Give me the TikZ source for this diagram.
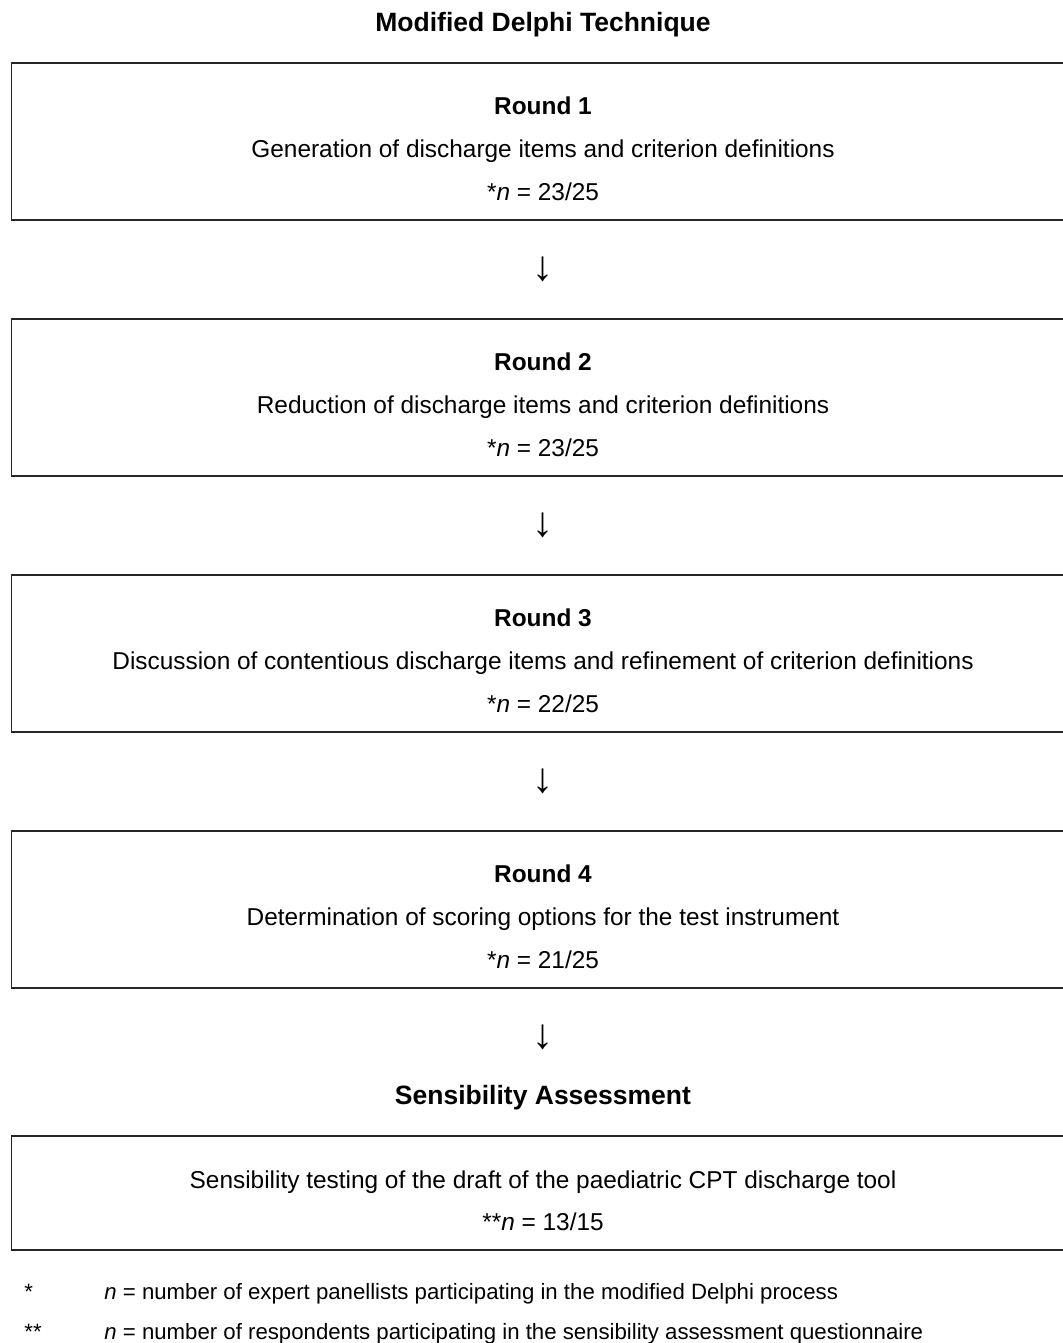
\documentclass[tikz,border=0pt]{standalone}
\usepackage{fontspec}
\setmainfont{Liberation Sans}
\begin{document}
\begin{tikzpicture}[x=0.5pt,y=-0.5pt,
  box/.style={draw=black!85,line width=0.75pt,minimum width=531.75pt,minimum height=78.5pt,inner sep=0pt},
  txt/.style={anchor=base,inner sep=0pt,font=\fontsize{12.2}{14.6}\selectfont},
  rnd/.style={txt,font=\fontsize{12.2}{14.6}\selectfont\bfseries},
  head/.style={anchor=base,inner sep=0pt,font=\fontsize{13.25}{16}\selectfont\bfseries},
  down/.style={inner sep=0pt,font=\fontsize{21}{24}\selectfont},
  note/.style={anchor=base west,inner sep=0pt,font=\fontsize{11.1}{13.3}\selectfont}]
  \useasboundingbox (0,0) rectangle (1063,1343);

  % Title
  \node[head] (title) at (543,31.5) {Modified Delphi Technique};

  % Round 1
  \node[box] (box1) at (543.25,141.5) {};
  \node[rnd] (r1) at (543,114.5) {Round 1};
  \node[txt] (r1a) at (543,157.5) {Generation of discharge items and criterion definitions};
  \node[txt] (r1b) at (543,200.5) {*\textit{n} = 23/25};

  % Round 2
  \node[box] (box2) at (543.25,397.5) {};
  \node[rnd] (r2) at (543,370.5) {Round 2};
  \node[txt] (r2a) at (543,413.5) {Reduction of discharge items and criterion definitions};
  \node[txt] (r2b) at (543,456.5) {*\textit{n} = 23/25};

  % Round 3
  \node[box] (box3) at (543.25,653.5) {};
  \node[rnd] (r3) at (543,626.5) {Round 3};
  \node[txt] (r3a) at (543,669.5) {Discussion of contentious discharge items and refinement of criterion definitions};
  \node[txt] (r3b) at (543,712.5) {*\textit{n} = 22/25};

  % Round 4
  \node[box] (box4) at (543.25,909.5) {};
  \node[rnd] (r4) at (543,882.5) {Round 4};
  \node[txt] (r4a) at (543,925.5) {Determination of scoring options for the test instrument};
  \node[txt] (r4b) at (543,968.5) {*\textit{n} = 21/25};

  % Arrows
  \node[down] (d1) at (543,269) {↓};
  \node[down] (d2) at (543,525) {↓};
  \node[down] (d3) at (543,781) {↓};
  \node[down] (d4) at (543,1037) {↓};

  % Sensibility assessment
  \node[head] (sens) at (543,1104) {Sensibility Assessment};
  \node[box,minimum height=57pt] (box5) at (543.25,1193) {};
  \node[txt] (s1) at (543,1188.5) {Sensibility testing of the draft of the paediatric CPT discharge tool};
  \node[txt] (s2) at (543,1230.5) {**\textit{n} = 13/15};

  % Notes
  \node[note] (k1) at (24,1299.5) {*};
  \node[note] (n1) at (104,1299.5) {\textit{n} = number of expert panellists participating in the modified Delphi process};
  \node[note] (k2) at (24,1339.5) {**};
  \node[note] (n2) at (104,1339.5) {\textit{n} = number of respondents participating in the sensibility assessment questionnaire};

\end{tikzpicture}
\end{document}
